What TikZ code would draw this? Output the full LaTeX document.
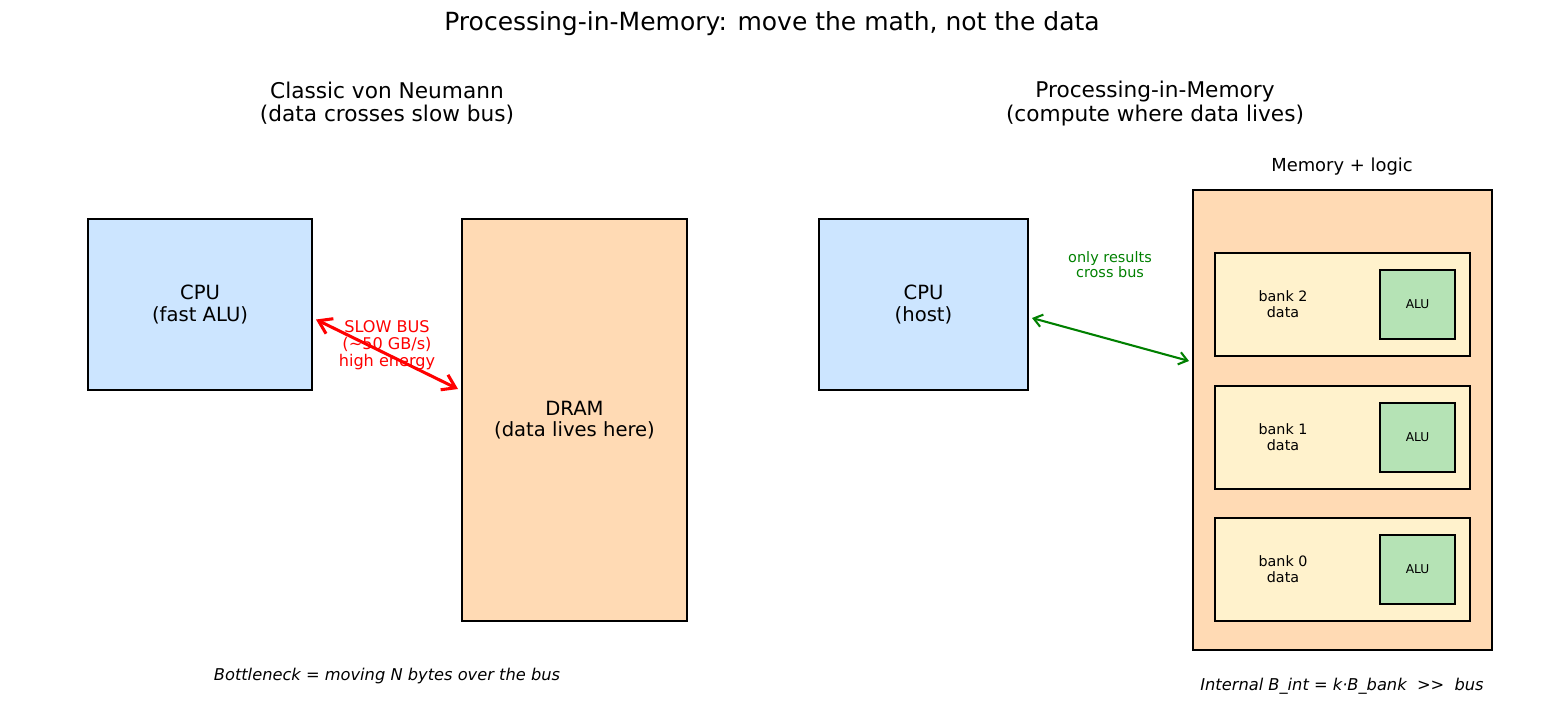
\documentclass[tikz,border=0pt]{standalone}
\usepackage{fontspec}
\setmainfont{DejaVu Sans}
\usetikzlibrary{positioning, arrows.meta}
\definecolor{cpublue}{HTML}{CCE5FF}
\definecolor{drampeach}{HTML}{FFDAB4}
\definecolor{bankyellow}{HTML}{FFF2CC}
\definecolor{alugreen}{HTML}{B5E3B5}
\definecolor{mplgreen}{HTML}{008000}
\newcommand{\pxu}{0.72pt}

\begin{document}
\begin{tikzpicture}[x=0.72pt,y=-0.72pt,
    box/.style={draw, line width=1.1pt, inner sep=0pt, outer sep=0pt, align=center},
    boxtxt/.style={font=\fontsize{14.1}{15.2}\selectfont, align=center},
    head/.style={font=\fontsize{15.6}{16.6}\selectfont, align=center},
    note/.style={font=\fontsize{11.7}{12}\selectfont\itshape}]
    \useasboundingbox (0,0) rectangle (1542,721);

    \node[font=\fontsize{18}{20}\selectfont] (title) at (772,24) {Processing-in-Memory: move the math, not the data};

    % left: von Neumann
    \node[head] (headA) at (387,103.5) {Classic von Neumann\\(data crosses slow bus)};
    \node[box, boxtxt, fill=cpublue, minimum width=224*\pxu, minimum height=171*\pxu] (cpuA) at (200,304.5) {CPU\\(fast ALU)};
    \node[box, boxtxt, fill=drampeach, minimum width=225*\pxu, minimum height=402*\pxu] (dram) at (574.5,420) {DRAM\\(data lives here)};
    \node[text=red, align=center, font=\fontsize{11.6}{12.2}\selectfont] (busLbl) at (387,345) {SLOW BUS\\(\textasciitilde 50 GB/s)\\high energy};
    \draw[red, line width=2.2pt, {Straight Barb[length=9pt, width=12pt]}-{Straight Barb[length=9pt, width=12pt]}]
      ([shift={(4,15)}]cpuA.east) -- ([shift={(-4,-31)}]dram.west);
    \node[note] (noteA) at (387,676) {Bottleneck = moving N bytes over the bus};

    % right: PIM
    \node[head] (headB) at (1155,103.5) {Processing-in-Memory\\(compute where data lives)};
    \node[box, boxtxt, fill=cpublue, minimum width=209*\pxu, minimum height=171*\pxu] (cpuB) at (923.5,304.5) {CPU\\(host)};
    \node[box, fill=drampeach, minimum width=299*\pxu, minimum height=460*\pxu] (mem) at (1342.5,420) {};
    \node[font=\fontsize{12.9}{14}\selectfont] (memLbl) at (1342,167) {Memory + logic};
    \foreach \b/\y in {2/304.5, 1/437.5, 0/569.5} {
      \node[box, fill=bankyellow, minimum width=255*\pxu, minimum height=103*\pxu] (bank\b) at (1342.5,\y) {};
      \node[align=center, font=\fontsize{10.3}{11.5}\selectfont] (bankTxt\b) at (1283,\y) {bank \b\\data};
      \node[box, fill=alugreen, minimum width=75*\pxu, minimum height=69*\pxu, font=\fontsize{8.8}{10}\selectfont] (alu\b) at (1417.5,\y) {ALU};
    }
    \node[text=mplgreen, align=center, font=\fontsize{10.4}{10.8}\selectfont] (resLbl) at (1110,264.5) {only results\\cross bus};
    \draw[mplgreen, line width=1.5pt, {Straight Barb[length=6pt, width=9pt]}-{Straight Barb[length=6pt, width=9pt]}]
      ([shift={(4,13.5)}]cpuB.east) -- ([shift={(-4,-59)}]mem.west);
    \node[note] (noteB) at (1342,686) {Internal B\_int = k·B\_bank \ {>}{>} \ bus};
\end{tikzpicture}
\end{document}
